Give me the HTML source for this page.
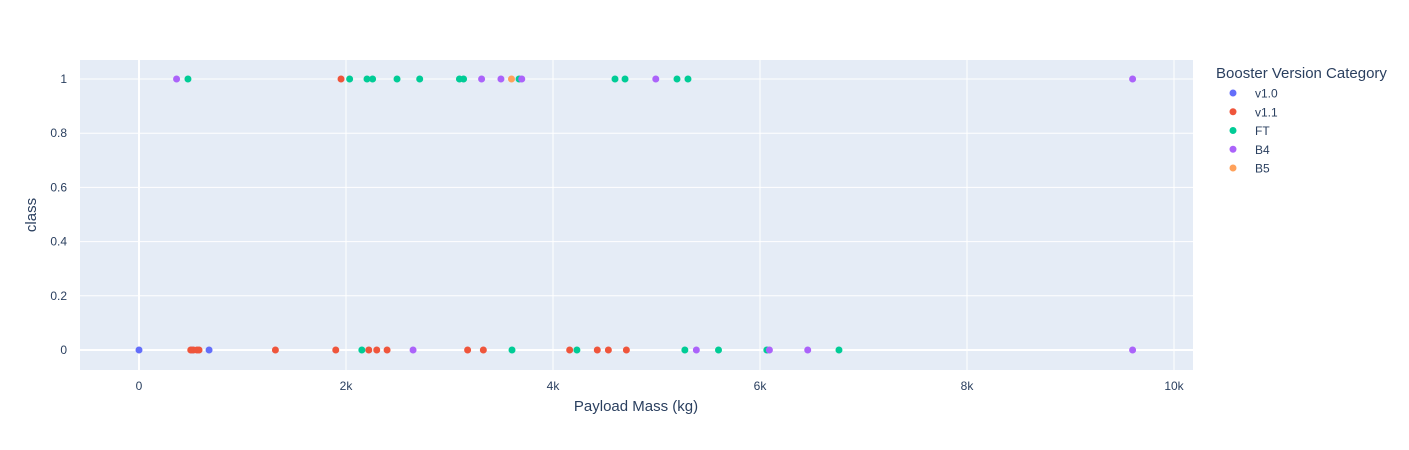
<!DOCTYPE html>
<html><head><meta charset="utf-8"><style>
html,body{margin:0;padding:0;background:#fff;}
svg{display:block;font-family:"Liberation Sans",Arial,sans-serif;}
</style></head><body>
<svg id="chart" width="1409" height="450">
<rect x="80" y="60" width="1113" height="310" fill="#e5ecf6"/>
<g id="grid"></g><g id="pts"></g><g id="ticks"></g>
<text x="636" y="411" text-anchor="middle" font-size="15" fill="#2a3f5f">Payload Mass (kg)</text>
<text transform="translate(36,215) rotate(-90)" text-anchor="middle" font-size="15" fill="#2a3f5f">class</text>
<text x="1216" y="78" font-size="15" fill="#2a3f5f">Booster Version Category</text>
<g id="legend"></g>
</svg>
<script>
const categories = ["v1.0","v1.1","FT","B4","B5"];
const colors = ["#636efa","#EF553B","#00cc96","#ab63fa","#FFA15A"];
const payloadV10 = [0,512,677];
const classV10 = [0,0,0];
const payloadV11 = [1952,500,525,560,580,1318,1901,2220,2297,2397,3175,3327,4161,4428,4535,4709];
const classV11 = [1,0,0,0,0,0,0,0,0,0,0,0,0,0,0,0];
const payloadFT = [473,2035,2203,2257,2493,2712,3096,3136,3672,4599,4696,5198,5304,2153,3604,4231,5274,5599,6066,6763];
const classFT = [1,1,1,1,1,1,1,1,1,1,1,1,1,0,0,0,0,0,0,0];
const payloadB4 = [363,3310,3497,3698,4993,9600,2648,5385,6091,6461,9600];
const classB4 = [1,1,1,1,1,1,0,0,0,0,0];
const payloadB5 = [3599];
const classB5 = [1];
const xTicks = [0,2000,4000,6000,8000,10000];
const xTickLabels = ["0","2k","4k","6k","8k","10k"];
const yTicks = [0,0.2,0.4,0.6,0.8,1];
const yTickLabels = ["0","0.2","0.4","0.6","0.8","1"];

const X = v => 139 + v * 0.1035;
const Y = v => 350 - v * 271;
const NS = "http://www.w3.org/2000/svg";
function mk(tag, attrs, parent){const e=document.createElementNS(NS,tag);for(const k in attrs)e.setAttribute(k,attrs[k]);parent.appendChild(e);return e;}
const grid=document.getElementById('grid'), ticks=document.getElementById('ticks'), pts=document.getElementById('pts'), leg=document.getElementById('legend');
xTicks.forEach((t,i)=>{
  const l=mk('line',{x1:X(t),x2:X(t),y1:60,y2:370,stroke:'#fff','stroke-width':t===0?2:1},grid);
  
  
  const tx=mk('text',{x:X(t),y:390,'text-anchor':'middle','font-size':12,fill:'#2a3f5f'},ticks);
  tx.textContent=xTickLabels[i];
  
  
});
yTicks.forEach((t,i)=>{
  const l=mk('line',{x1:80,x2:1193,y1:Y(t),y2:Y(t),stroke:'#fff','stroke-width':t===0?2:1},grid);
  
  
  const tx=mk('text',{x:67,y:Y(t)+4,'text-anchor':'end','font-size':12,fill:'#2a3f5f'},ticks);
  tx.textContent=yTickLabels[i];
  
  
});
const series=[[payloadV10,classV10],[payloadV11,classV11],[payloadFT,classFT],[payloadB4,classB4],[payloadB5,classB5]];
series.forEach((s,si)=>{
  s[0].forEach((p,j)=>{
    const c=mk('circle',{cx:X(p),cy:Y(s[1][j]),r:3.5,fill:colors[si]},pts);
    
    
  });
  const ly=93+si*18.75;
  const m=mk('circle',{cx:1233,cy:ly,r:3.5,fill:colors[si]},leg);
  
  
  const t=mk('text',{x:1255,y:ly+4.5,'font-size':12,fill:'#2a3f5f'},leg);
  t.textContent=categories[si];
  
  
});
</script>
</body></html>
